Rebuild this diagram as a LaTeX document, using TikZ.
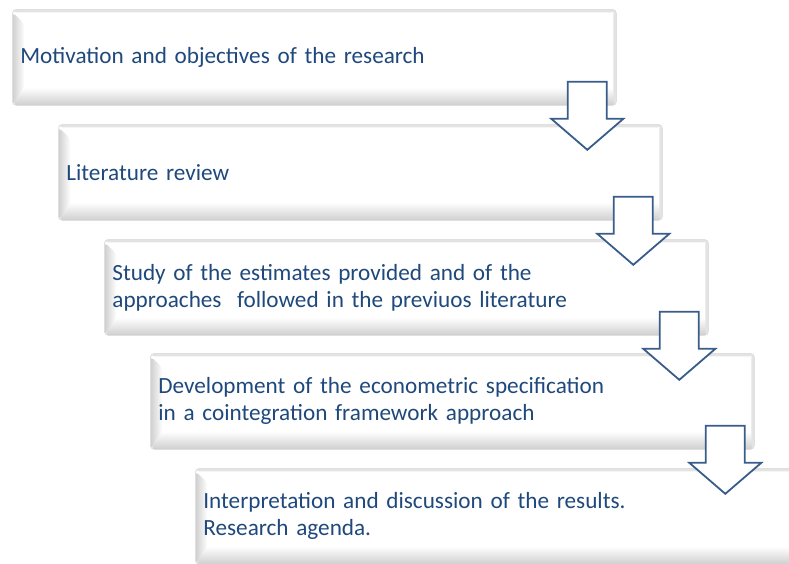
\documentclass[tikz,border=0pt]{standalone}
\usepackage{fontspec}
\setmainfont{Carlito}
\usetikzlibrary{calc}

\definecolor{txtblue}{RGB}{31,73,125}
\definecolor{arrowblue}{RGB}{56,93,138}

\tikzset{
  stepbox/.style={
    rectangle, rounded corners=4pt, anchor=north west,
    draw=gray!25, line width=0.8pt, fill=white,
    minimum height=96pt, inner xsep=8pt, text width=588pt,
    align=left, text=txtblue,
    font=\fontsize{23.2}{27}\selectfont,
    path picture={
      % top rim
      \fill[gray!22] (path picture bounding box.north west)
        rectangle ([yshift=-3pt]path picture bounding box.north east);
      % left bevel
      \shade[left color=gray!38, right color=white]
        ([yshift=-3pt]path picture bounding box.north west) --
        ([xshift=12pt,yshift=-14pt]path picture bounding box.north west) --
        ([xshift=12pt,yshift=18pt]path picture bounding box.south west) --
        (path picture bounding box.south west) -- cycle;
      % bottom band
      \shade[top color=white, bottom color=gray!38]
        ([xshift=12pt,yshift=18pt]path picture bounding box.south west) --
        ([xshift=-4pt,yshift=18pt]path picture bounding box.south east) --
        (path picture bounding box.south east) --
        (path picture bounding box.south west) -- cycle;
      % right rim
      \fill[gray!22] ([xshift=-3pt]path picture bounding box.north east)
        rectangle (path picture bounding box.south east);
    }
  },
  blockarrow/.style={draw=arrowblue, line width=1.8pt, fill=white,
    line join=miter},
  pics/downarrow/.style={
    code={
      \draw[blockarrow] (0,0) -- (-36,-31) -- (-19.5,-31) -- (-19.5,-68)
        -- (19.5,-68) -- (19.5,-31) -- (36,-31) -- cycle;
    }
  }
}

\begin{document}
\begin{tikzpicture}[x=1pt, y=-1pt]
  \useasboundingbox (0,0) rectangle (789,563);

  \node[stepbox] (b1) at (12,9) {Motivation and objectives of the research};
  \node[stepbox] (b2) at (58,124) {Literature review};
  \node[stepbox] (b3) at (104,239) {Study of the estimates provided and of the\\
    approaches\ \ followed in the previuos literature};
  \node[stepbox] (b4) at (150,353) {Development of the econometric specification\\
    in a cointegration framework approach};
  \node[stepbox] (b5) at (195,468) {Interpretation and discussion of the results.\\
    Research agenda.};

  % arrows leading from each step to the next
  \foreach \a in {b1,b2,b3,b4}{
    \pic at ($(\a.south east)+(-29.5,44)$) {downarrow};
  }
\end{tikzpicture}
\end{document}
